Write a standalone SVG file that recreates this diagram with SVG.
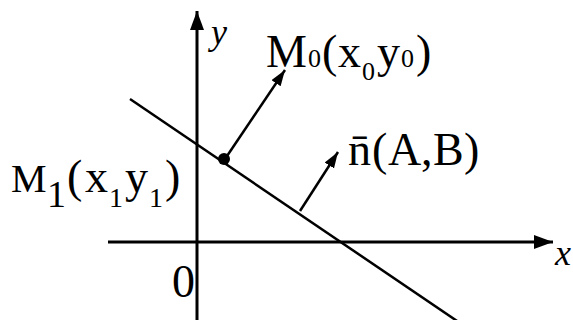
<svg xmlns="http://www.w3.org/2000/svg" width="573" height="320" viewBox="0 0 573 320">
<style>
.ax{stroke:#000;stroke-width:3;fill:none}
.ln{stroke:#000;stroke-width:2.5;fill:none}
.t{font-family:"Liberation Serif","Times New Roman",serif;font-size:46px;fill:#000}
.it{font-family:"Liberation Serif","Times New Roman",serif;font-style:italic;font-size:36px;fill:#000}
</style>
<defs>
<marker id="ahA" markerUnits="userSpaceOnUse" markerWidth="20" markerHeight="16" refX="19" refY="7" orient="auto">
<path d="M0,0 L19,7 L0,14 z" fill="#000"/>
</marker>
<marker id="ahV" markerUnits="userSpaceOnUse" markerWidth="17" markerHeight="12" refX="16" refY="5.5" orient="auto">
<path d="M0,0 L16,5.5 L0,11 z" fill="#000"/>
</marker>
</defs>
<g id="connectors">
<line id="x-axis" class="ax" x1="108" y1="242" x2="553" y2="242" marker-end="url(#ahA)"/>
<line id="y-axis" class="ax" x1="197" y1="320" x2="197" y2="11" marker-end="url(#ahA)"/>
<line id="line" class="ln" x1="130" y1="99" x2="460" y2="323"/>
<line id="vec-m0" class="ln" x1="225" y1="159" x2="285" y2="70" marker-end="url(#ahV)"/>
<line id="vec-n" class="ln" x1="300" y1="211" x2="338" y2="152" marker-end="url(#ahV)"/>
</g>
<g id="point-m1"><circle cx="224" cy="159" r="6" fill="#000"/></g>
<g id="label-y"><text class="it" x="211" y="44">y</text></g>
<g id="label-x"><text class="it" x="555" y="265">x</text></g>
<g id="label-origin"><text class="t" x="172" y="297" font-size="48">0</text></g>
<g id="label-m0"><text class="t" y="67"><tspan x="266">M</tspan><tspan x="308" font-size="26">0</tspan><tspan x="322">(</tspan><tspan x="338">x</tspan><tspan x="362" y="80" font-size="26">0</tspan><tspan x="377" y="67">y</tspan><tspan x="401" font-size="26">0</tspan><tspan x="416">)</tspan></text></g>
<g id="label-m1"><text class="t" y="192"><tspan x="11" font-size="40">M</tspan><tspan x="47" y="207" font-size="38">1</tspan><tspan x="67" y="192">(</tspan><tspan x="85">x</tspan><tspan x="109" y="207" font-size="28">1</tspan><tspan x="125" y="192">y</tspan><tspan x="149" y="207" font-size="28">1</tspan><tspan x="165" y="192">)</tspan></text></g>
<g id="label-n"><text class="t" y="165"><tspan x="348">n̄</tspan><tspan x="372">(</tspan><tspan x="388">A</tspan><tspan x="421">,</tspan><tspan x="433">B</tspan><tspan x="464">)</tspan></text></g>
</svg>
